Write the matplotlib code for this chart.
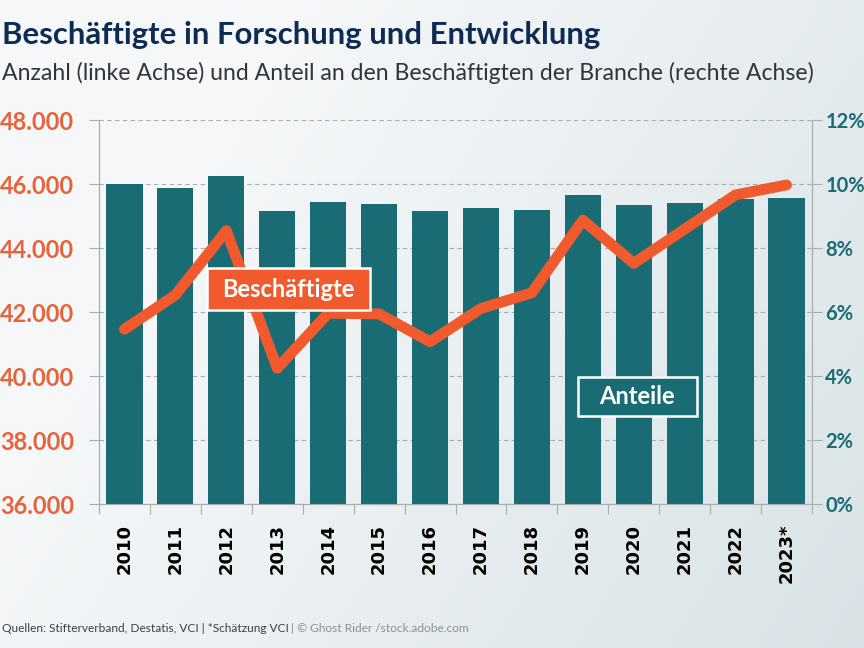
"""
Beschäftigte in Forschung und Entwicklung
Balken = Anteil (rechte Achse), Linie = Anzahl (linke Achse)
"""

import matplotlib.pyplot as plt
from matplotlib.patches import Rectangle
import numpy as np

plt.rcParams['font.family'] = ['Lato', 'DejaVu Sans']

# Daten
jahre = ['2010', '2011', '2012', '2013', '2014', '2015', '2016',
         '2017', '2018', '2019', '2020', '2021', '2022', '2023*']
anteile = [10.0, 9.9, 10.25, 9.18, 9.44, 9.39, 9.18,
           9.27, 9.2, 9.67, 9.35, 9.42, 9.55, 9.57]
beschaeftigte = [41470, 42540, 44550, 40250, 41970, 41950, 41080,
                 42120, 42610, 44880, 43530, 44600, 45670, 45980]
links_ticks = [36000, 38000, 40000, 42000, 44000, 46000, 48000]
links_labels = ['36.000', '38.000', '40.000', '42.000', '44.000', '46.000', '48.000']
rechts_ticks = [0, 2, 4, 6, 8, 10, 12]
rechts_labels = ['0%', '2%', '4%', '6%', '8%', '10%', '12%']

orange = '#F05A2D'
orange_lbl = '#E8633A'
teal = '#196C74'
navy = '#0E2B52'
grau = '#a8adb0'

fig = plt.figure(figsize=(8.64, 6.48), dpi=100)

# Hintergrund mit leichtem Verlauf
bg = fig.add_axes([0, 0, 1, 1], zorder=-10)
gx = np.linspace(0, 1, 200)
gy = np.linspace(0, 1, 150)
X, Y = np.meshgrid(gx, gy)
t = np.clip(0.75 * X + 0.35 * Y - 0.25, 0, 1)
c0 = np.array([0.965, 0.972, 0.978])
c1 = np.array([0.83, 0.875, 0.89])
img = c0[None, None, :] * (1 - t[..., None]) + c1[None, None, :] * t[..., None]
bg.imshow(img, aspect='auto', extent=[0, 1, 0, 1], origin='upper')
bg.axis('off')

pos = [99 / 864, 1 - 504.3 / 648, (812 - 99) / 864, (504.3 - 120.3) / 648]
ax2 = fig.add_axes(pos)      # Balken, rechte Achse
ax = ax2.twinx()             # Linie, linke Achse
ax.set_zorder(ax2.get_zorder() + 1)
ax.patch.set_visible(False)
ax2.patch.set_visible(False)

x = np.arange(len(jahre))

# Balken
ax2.bar(x, anteile, width=0.71, color=teal, zorder=3)
ax2.set_ylim(0, 12)
ax2.set_xlim(-0.5, len(jahre) - 0.5)
ax2.yaxis.tick_right()
ax2.set_yticks(rechts_ticks)
ax2.set_yticklabels(rechts_labels, color=teal, fontsize=14.5, fontweight='bold')
ax2.tick_params(axis='y', length=7, width=0.8, color=grau, pad=2.5)
ax2.grid(axis='y', color='#a9aeb2', linestyle=(0, (4, 3)), linewidth=0.8)
ax2.set_axisbelow(True)

# Linie
ax.plot(x, beschaeftigte, color=orange, linewidth=7.8,
        solid_capstyle='round', solid_joinstyle='round', zorder=4)
ax.set_ylim(36000, 48000)
ax.yaxis.tick_left()
ax.set_yticks(links_ticks)
ax.set_yticklabels(links_labels, color=orange_lbl, fontsize=17, fontweight='bold')
ax.tick_params(axis='y', length=7, width=0.8, color=grau, pad=11)

# x-Achse: Beschriftung mittig, Striche zwischen den Kategorien
ax2.set_xticks(x)
ax2.set_xticklabels(jahre, rotation=90, fontsize=13, fontweight='bold',
                    color='black', family=['DejaVu Sans'])
ax2.tick_params(axis='x', which='major', length=0, pad=14)
ax2.set_xticks(np.arange(-0.5, len(jahre)), minor=True)
ax2.tick_params(axis='x', which='minor', length=7, width=0.8, color=grau)
ax.tick_params(axis='x', length=0, labelbottom=False)

for a in (ax, ax2):
    a.spines['top'].set_visible(False)
    for s in ('left', 'right', 'bottom'):
        a.spines[s].set_color(grau)
        a.spines[s].set_linewidth(0.8)

# Beschriftungskästen
ax.add_patch(Rectangle((1.62, 42070), 3.2, 1310, fc=orange, ec='white',
                       lw=1.8, zorder=9))
ax.text(3.22, 42725, 'Beschäftigte', ha='center', va='center', color='white',
        fontsize=17, fontweight='bold', zorder=10)
ax.add_patch(Rectangle((8.905, 38760), 2.335, 1220, fc=teal, ec='white',
                       lw=1.8, zorder=9))
ax.text(10.07, 39370, 'Anteile', ha='center', va='center', color='white',
        fontsize=17, fontweight='bold', zorder=10)

# Titel
fig.text(0.002, 1 - 35 / 648, 'Beschäftigte in Forschung und Entwicklung',
         fontsize=22.4, fontweight='bold', color=navy, va='center', ha='left')
fig.text(0.002, 1 - 73 / 648,
         'Anzahl (linke Achse) und Anteil an den Beschäftigten der Branche (rechte Achse)',
         fontsize=16.6, color='#30353a', va='center', ha='left')

# Quelle
fig.text(0.002, 1 - 628 / 648, 'Quellen: Stifterverband, Destatis, VCI | *Schätzung VCI',
         fontsize=8.6, color='#3a3f44', va='center', ha='left')
fig.text(0.002 + 289 / 864, 1 - 628 / 648, '| © Ghost Rider /stock.adobe.com',
         fontsize=8.6, color='#8a9096', va='center', ha='left')

fig.savefig('out.png', dpi=100)
